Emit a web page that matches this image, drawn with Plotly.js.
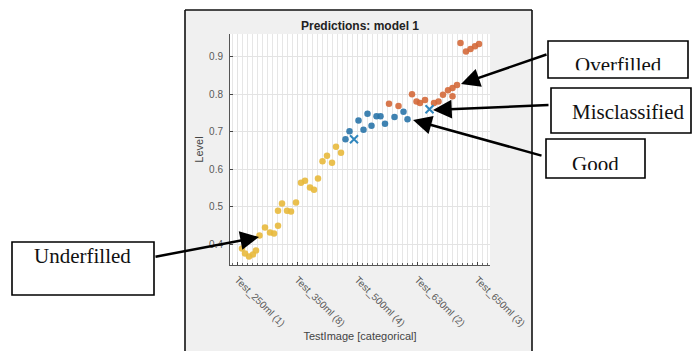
<!DOCTYPE html>
<html>
<head>
<meta charset="utf-8">
<script src="https://cdn.plot.ly/plotly-3.0.1.min.js"></script>
<style>html,body{margin:0;padding:0;background:#fff;}#chart{width:692px;height:351px;}</style>
</head>
<body>
<div id="chart"></div>
<script>
// ---- data (x = category index along the categorical TestImage axis) ----
const tickCategoryIndex = [2, 14, 26, 38, 50];
const tickCategoryLabels = ['Test_250ml (1)', 'Test_350ml (8)', 'Test_500ml (4)', 'Test_630ml (2)', 'Test_650ml (3)'];

const underfilledX = [2.9, 3.5, 4.3, 5.1, 5.7, 6.4, 7.5, 8.5, 9.3, 10.1, 10.1, 10.9, 11.9, 12.7, 13.7, 14.7, 15.5, 16.5, 17.3, 18.1, 19.0, 19.9, 20.9, 21.7, 22.7];
const underfilledY = [0.388, 0.375, 0.367, 0.372, 0.383, 0.423, 0.444, 0.431, 0.428, 0.449, 0.489, 0.508, 0.489, 0.487, 0.511, 0.564, 0.569, 0.551, 0.545, 0.575, 0.621, 0.636, 0.617, 0.660, 0.644];

const goodX = [23.6, 24.4, 26.2, 27.2, 28.0, 28.8, 29.8, 30.6, 31.5, 33.4, 35.2, 36.0];
const goodY = [0.680, 0.701, 0.730, 0.705, 0.748, 0.716, 0.741, 0.741, 0.721, 0.739, 0.753, 0.733];

const overfilledX = [32.3, 34.2, 36.9, 37.8, 38.5, 39.5, 41.3, 42.2, 43.1, 44.1, 45.0, 45.0, 45.9, 46.6, 47.7, 48.6, 49.5, 50.3];
const overfilledY = [0.775, 0.769, 0.800, 0.781, 0.777, 0.785, 0.777, 0.781, 0.799, 0.811, 0.817, 0.795, 0.825, 0.937, 0.914, 0.921, 0.928, 0.934];

const misclassifiedX = [25.3, 40.4];
const misclassifiedY = [0.680, 0.760];

// ---- layout helpers (pixel -> paper) ----
const PL = 230, PR = 490, PT = 34, PB = 265;
const px = v => (v - PL) / (PR - PL);
const py = v => (PB - v) / (PB - PT);

const axisFont = {family: 'Liberation Sans, Arial, sans-serif', size: 10, color: '#5a5a5a'};
const serif = {family: 'Liberation Serif, Times New Roman, serif', size: 21, color: '#111'};

const traces = [
  {type: 'scatter', mode: 'markers', x: underfilledX, y: underfilledY, name: 'Underfilled',
   marker: {color: '#e8b93c', size: 6.5, opacity: 0.9}},
  {type: 'scatter', mode: 'markers', x: goodX, y: goodY, name: 'Good',
   marker: {color: '#2a74a8', size: 6.5, opacity: 0.9}},
  {type: 'scatter', mode: 'markers', x: overfilledX, y: overfilledY, name: 'Overfilled',
   marker: {color: '#d4693a', size: 6.5, opacity: 0.9}},
  {type: 'scatter', mode: 'markers', x: misclassifiedX, y: misclassifiedY, name: 'Misclassified',
   marker: {color: '#2f86bd', size: 8, symbol: 'x-thin-open', line: {width: 2, color: '#2f86bd'}}}
];

function rect(x0, y0, x1, y1, fill, lineW, layer) {
  return {type: 'rect', xref: 'paper', yref: 'paper', x0: px(x0), x1: px(x1), y0: py(y1), y1: py(y0),
          fillcolor: fill, line: {width: lineW, color: '#000'}, layer: layer || 'below'};
}
function seg(x0, y0, x1, y1, w) {
  return {type: 'line', xref: 'paper', yref: 'paper', x0: px(x0), x1: px(x1), y0: py(y0), y1: py(y1),
          line: {width: w, color: '#111'}, layer: 'above'};
}
function arrow(tailX, tailY, tipX, tipY) {
  return {xref: 'paper', yref: 'paper', x: px(tipX), y: py(tipY), ax: tailX - tipX, ay: tailY - tipY,
          text: '', showarrow: true, arrowhead: 2, arrowsize: 1.5, arrowwidth: 2.5, arrowcolor: '#000',
          standoff: 0, startstandoff: 0};
}
function label(text, cx, cy, clipHeight) {
  const a = {xref: 'paper', yref: 'paper', x: px(cx), y: py(cy), text: text, showarrow: false,
             font: serif, xanchor: 'center', yanchor: 'middle', borderpad: 0};
  if (clipHeight) { a.yanchor = 'top'; a.height = clipHeight; a.valign = 'top'; }
  return a;
}

const layout = {
  width: 692, height: 351,
  margin: {l: PL, r: 692 - PR, t: PT, b: 351 - PB, pad: 0},
  paper_bgcolor: '#fff', plot_bgcolor: '#fff',
  showlegend: false,
  title: {text: '<b>Predictions: model 1</b>', font: {family: 'Liberation Sans, Arial, sans-serif', size: 12, color: '#222'},
          x: 0.5, xref: 'paper', xanchor: 'center', y: 1 - 26 / 351, yanchor: 'middle'},
  xaxis: {
    range: [0.5, 52.5], tickmode: 'array', tickvals: tickCategoryIndex, ticktext: tickCategoryLabels,
    tickangle: 45, tickfont: axisFont, ticks: 'inside', ticklen: 3, tickcolor: '#444',
    showgrid: true, gridcolor: '#e3e3e3', gridwidth: 1, zeroline: false,
    showline: true, linecolor: '#555', linewidth: 1, mirror: false,
    minor: {tickmode: 'linear', tick0: 0, dtick: 1, showgrid: true, gridcolor: '#e6e6e6', gridwidth: 1,
            ticks: 'inside', ticklen: 2, tickcolor: '#666'},
    ticklabelstandoff: 4,
    title: {text: 'TestImage [categorical]', font: {family: 'Liberation Sans, Arial, sans-serif', size: 11, color: '#444'}, standoff: 4},
    fixedrange: true
  },
  yaxis: {
    range: [0.344, 0.961], tickmode: 'linear', tick0: 0.4, dtick: 0.1, tickformat: '.1f',
    tickfont: axisFont, ticks: 'inside', ticklen: 3, tickcolor: '#444',
    showgrid: true, gridcolor: '#e3e3e3', gridwidth: 1, zeroline: false,
    showline: true, linecolor: '#555', linewidth: 1,
    ticklabelstandoff: 4,
    title: {text: 'Level', font: {family: 'Liberation Sans, Arial, sans-serif', size: 11, color: '#444'}, standoff: 3},
    fixedrange: true
  },
  shapes: [
    rect(185, 10, 532, 360, '#f0f0f0', 0, 'below'),
    rect(PL, PT, PR, PB, '#ffffff', 0, 'below'),
    seg(185, 10, 185, 360, 1.6),
    seg(185, 10, 532, 10, 1.6),
    seg(532, 10, 532, 360, 1.6),
    rect(12, 242, 154, 295, 'rgba(0,0,0,0)', 1.6, 'above'),
    rect(548, 41, 688, 78, 'rgba(0,0,0,0)', 1.6, 'above'),
    rect(551, 88, 691, 133, 'rgba(0,0,0,0)', 1.6, 'above'),
    rect(546, 139, 645, 178, 'rgba(0,0,0,0)', 1.6, 'above')
  ],
  annotations: [
    label('Underfilled', 82, 256.2),
    label('Misclassified', 628, 112.2),
    label('Overfilled', 618, 52, 17.3),
    label('Good', 595.5, 151.3, 18),
    arrow(154, 257, 259, 237),
    arrow(548, 54, 461, 84),
    arrow(550, 105, 433, 110),
    arrow(543, 156, 413, 120)
  ]
};

Plotly.newPlot('chart', traces, layout, {displayModeBar: false, staticPlot: true});
</script>
</body>
</html>
